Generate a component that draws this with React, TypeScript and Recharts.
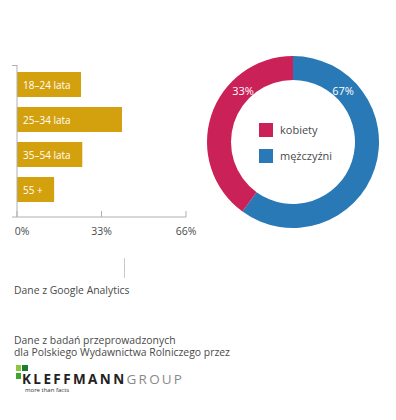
import React from 'react';
import { BarChart, Bar, XAxis, YAxis, ReferenceLine, LabelList, PieChart, Pie, Cell, Legend } from 'recharts';

const ageGroups = ['18–24 lata', '25–34 lata', '35–54 lata', '55 +'];
const ageShare = [25, 41, 25.5, 14.5];
const axisTicks = [0, 33, 66];

const genderNames = ['mężczyźni', 'kobiety'];
const genderShare = [60, 40];
const genderLabels = ['67%', '33%'];
const genderColors = ['#2879B6', '#CB2159'];
const legendOrder = ['kobiety', 'mężczyźni'];

const BAR_COLOR = '#D4A10E';
const FONT = '"Open Sans", sans-serif';
const TEXT = '#4a4a4a';
const AXIS = '#b0b0b0';

const ageData = ageGroups.map((name, i) => ({ name, value: ageShare[i] }));
const genderData = genderNames.map((name, i) => ({ name, value: genderShare[i], label: genderLabels[i] }));

const AxisTick = (props: any) => {
  const { x, y, payload, index } = props;
  return (
    <g>
      <line x1={x} x2={x} y1={y - 6} y2={y} stroke={AXIS} />
      <text x={x + (index === 0 ? 5 : 0)} y={y + 18} textAnchor="middle" fontSize={10.5} fontFamily={FONT} fill={TEXT}>
        {payload.value}%
      </text>
    </g>
  );
};

const BarLabel = (props: any) => {
  const { x, y, height, value } = props;
  return (
    <text x={x + 6} y={y + height / 2} dominantBaseline="central" fill="#fff" fontSize={10} fontFamily={FONT}>
      {value}
    </text>
  );
};

const PieLabel = (props: any) => {
  const { cx, cy, startAngle, endAngle, index } = props;
  const ang = index === 0 ? startAngle - 44 : endAngle + 44;
  const r = 72;
  const rad = (ang * Math.PI) / 180;
  const x = cx + r * Math.cos(rad);
  const y = cy - r * Math.sin(rad);
  return (
    <text x={x} y={y} textAnchor="middle" dominantBaseline="central" fill="#fff" fontSize={11} fontFamily={FONT}>
      {genderData[index].label}
    </text>
  );
};

const LegendContent = (props: any) => {
  const items = [...(props.payload || [])].sort(
    (a: any, b: any) => legendOrder.indexOf(a.value) - legendOrder.indexOf(b.value)
  );
  return (
    <div style={{ fontFamily: FONT }}>
      {items.map((it: any, i: number) => (
        <div key={i} style={{ display: 'flex', alignItems: 'center', height: 14, marginBottom: 12 }}>
          <div style={{ width: 14, height: 14, background: it.color, marginRight: 7 }} />
          <span style={{ fontSize: 11, color: TEXT, lineHeight: '14px' }}>{it.value}</span>
        </div>
      ))}
    </div>
  );
};

export default function App() {
  return (
    <div style={{ position: 'absolute', left: 0, top: 0, width: 396, height: 420, background: '#fff', fontFamily: FONT }}>
      <div style={{ position: 'absolute', left: 0, top: 0 }}>
        <BarChart width={200} height={260} layout="vertical" data={ageData} margin={{ top: 65, right: 14, bottom: 13, left: 12 }}>
          <XAxis
            type="number"
            domain={[0, 66]}
            ticks={axisTicks}
            padding={{ left: 5, right: 0 }}
            height={30}
            axisLine={{ stroke: AXIS }}
            tickLine={false}
            tickSize={0}
            tickMargin={0}
            tick={<AxisTick />}
            interval={0}
          />
          <YAxis type="category" dataKey="name" hide padding={{ top: 2, bottom: 10 }} />
          <ReferenceLine x={0} stroke={AXIS} />
          <Bar dataKey="value" fill={BAR_COLOR} barSize={25} isAnimationActive={false}>
            <LabelList dataKey="name" content={<BarLabel />} />
          </Bar>
        </BarChart>
      </div>
      <div style={{ position: 'absolute', left: 12, top: 65, width: 5, height: 1, background: AXIS }} />

      <div style={{ position: 'absolute', left: 200, top: 40 }}>
        <PieChart width={196} height={210} margin={{ top: 0, right: 0, bottom: 0, left: 0 }}>
          <Pie
            data={genderData}
            dataKey="value"
            nameKey="name"
            cx={93}
            cy={102}
            innerRadius={62}
            outerRadius={86}
            startAngle={90}
            endAngle={-270}
            stroke="none"
            label={PieLabel}
            labelLine={false}
            isAnimationActive={false}
          >
            {genderData.map((d, i) => (
              <Cell key={d.name} fill={genderColors[i]} />
            ))}
          </Pie>
          <Legend
            layout="horizontal"
            verticalAlign="middle"
            align="center"
            content={<LegendContent />}
            wrapperStyle={{ left: 59, top: 83, width: 100 }}
          />
        </PieChart>
      </div>

      <div style={{ position: 'absolute', left: 124, top: 258, width: 1, height: 20, background: '#c8c8c8' }} />
      <div style={{ position: 'absolute', left: 14, top: 283, fontSize: 10.4, lineHeight: '14px', color: TEXT, whiteSpace: 'nowrap' }}>
        Dane z Google Analytics
      </div>

      <div style={{ position: 'absolute', left: 14, top: 334, fontSize: 10.4, lineHeight: '12px', color: TEXT, whiteSpace: 'nowrap' }}>
        Dane z badań przeprowadzonych
      </div>
      <div style={{ position: 'absolute', left: 14, top: 346, fontSize: 10.4, lineHeight: '12px', color: TEXT, whiteSpace: 'nowrap' }}>
        dla Polskiego Wydawnictwa Rolniczego przez
      </div>

      <div style={{ position: 'absolute', left: 16, top: 365, width: 5, height: 6, background: '#8DC63F' }} />
      <div style={{ position: 'absolute', left: 22, top: 365, width: 6, height: 6, background: '#1E7B34' }} />
      <div style={{ position: 'absolute', left: 16, top: 373, width: 5, height: 6, background: '#3FA535' }} />
      <div style={{ position: 'absolute', left: 22, top: 373, fontSize: 13.5, lineHeight: '12px', fontWeight: 700, color: '#222', letterSpacing: 2.4, whiteSpace: 'nowrap' }}>
        KLEFFMANN<span style={{ fontWeight: 400, color: '#8a8a8a', letterSpacing: 2.2 }}>GROUP</span>
      </div>
      <div style={{ position: 'absolute', left: 25, top: 387, fontSize: 6, lineHeight: '7px', color: '#333', whiteSpace: 'nowrap' }}>
        more than facts
      </div>
    </div>
  );
}
